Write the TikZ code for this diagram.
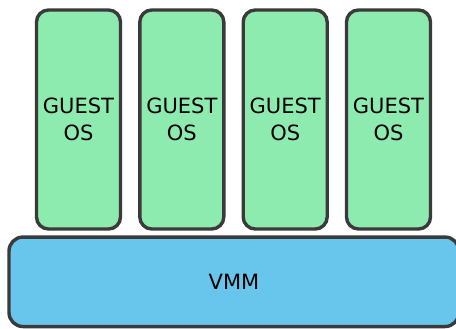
\documentclass[tikz,border=0pt]{standalone}
\usepackage{fontspec}
\setmainfont{DejaVu Sans}
\usepackage{tikz}
\usetikzlibrary{positioning}
\definecolor{GuestGreen}{HTML}{8EEBB0}
\definecolor{VmmBlue}{HTML}{68C5EB}
\definecolor{EdgeGrey}{HTML}{3A3A3A}

\begin{document}
\begin{tikzpicture}[x=1pt, y=-1pt]
\tikzset{
  guestbox/.style={draw=EdgeGrey, fill=GuestGreen, line width=3.4pt,
    rounded corners=12pt, minimum width=84pt, minimum height=219pt,
    inner sep=0pt, align=center, text=black,
    font=\fontsize{21}{26.5}\selectfont},
  vmmbox/.style={draw=EdgeGrey, fill=VmmBlue, line width=3.4pt,
    rounded corners=14pt, minimum width=450pt, minimum height=89.5pt,
    inner sep=0pt, text=black, font=\fontsize{21}{26.5}\selectfont},
}
  \useasboundingbox (0,0) rectangle (456,329);
  \clip (0,0) rectangle (456,329);

  % Top row: guest operating systems
  \node[guestbox] (guest1) at (78.5,119.5) {GUEST\\OS};
  \node[guestbox] (guest2) at (181.8,119.5) {GUEST\\OS};
  \node[guestbox] (guest3) at (285.2,119.5) {GUEST\\OS};
  \node[guestbox] (guest4) at (388.5,119.5) {GUEST\\OS};

  % Bottom layer: the monitor (right edge runs past the frame)
  \node[vmmbox] (vmm) at (234,281.8) {VMM};

\end{tikzpicture}
\end{document}
